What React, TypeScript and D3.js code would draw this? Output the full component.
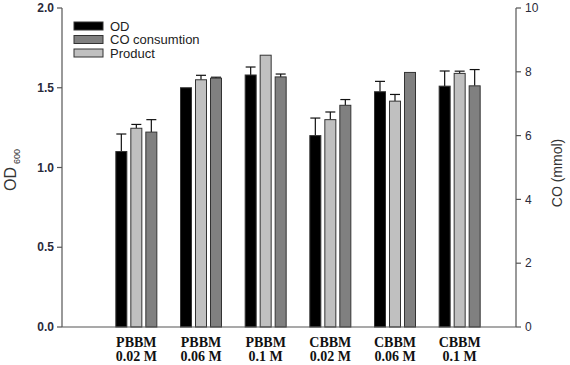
import React from 'react'
import * as d3 from 'd3'

// data
const categories = ['PBBM|0.02 M', 'PBBM|0.06 M', 'PBBM|0.1 M', 'CBBM|0.02 M', 'CBBM|0.06 M', 'CBBM|0.1 M']
const odValues = [1.10, 1.50, 1.58, 1.20, 1.475, 1.51]
const odErrors = [0.11, 0.0, 0.05, 0.11, 0.065, 0.095]
const productValues = [6.23, 7.75, 8.52, 6.5, 7.08, 7.95]
const productErrors = [0.12, 0.14, 0.0, 0.24, 0.21, 0.07]
const coValues = [6.11, 7.8, 7.84, 6.95, 7.98, 7.56]
const coErrors = [0.39, 0.03, 0.09, 0.18, 0.0, 0.51]
const leftTicks = [0, 0.5, 1.0, 1.5, 2.0]
const rightTicks = [0, 2, 4, 6, 8, 10]
const legendItems = [
    {label: 'OD', color: '#000000'},
    {label: 'CO consumtion', color: '#808080'},
    {label: 'Product', color: '#c0c0c0'},
]

const W = 570
const H = 365
const margin = {top: 8, right: 54, bottom: 38, left: 62}

export default function App() {
    const x0 = margin.left
    const x1 = W - margin.right
    const yBottom = H - margin.bottom

    const yLeft = d3.scaleLinear().domain([0, 2]).range([yBottom, margin.top])
    const yRight = d3.scaleLinear().domain([0, 10]).range([yBottom, margin.top])

    const xGroup = d3.scaleBand().domain(categories).range([104, 492]).paddingInner(0)
    const seriesKeys = ['od', 'product', 'co']
    const xSeries = d3.scaleBand().domain(seriesKeys).range([0, 41]).paddingInner(4 / 15).paddingOuter(0)

    const series = [
        {key: 'od', values: odValues, errors: odErrors, scale: yLeft, color: '#000000'},
        {key: 'product', values: productValues, errors: productErrors, scale: yRight, color: '#c0c0c0'},
        {key: 'co', values: coValues, errors: coErrors, scale: yRight, color: '#808080'},
    ]

    const axisColor = '#555'
    const textColor = '#2a2a3a'

    return (
        <svg width={W} height={H} style={{position: 'absolute', left: 0, top: 0, background: '#fff'}}
             fontFamily="Arial, 'Liberation Sans', sans-serif">
            {/* bars */}
            {series.map(s => categories.map((c, i) => {
                const gx = (xGroup(c) as number) + xGroup.bandwidth() / 2 - 20.5
                const bx = gx + (xSeries(s.key) as number)
                const bw = xSeries.bandwidth()
                const top = s.scale(s.values[i])
                const errTop = s.scale(s.values[i] + s.errors[i])
                const cx = bx + bw / 2
                return (
                    <g key={s.key + i}>
                        {s.errors[i] > 0 && (
                            <g stroke="#111" strokeWidth={1.2}>
                                <line x1={cx} x2={cx} y1={top} y2={errTop}/>
                                <line x1={cx - 5} x2={cx + 5} y1={errTop} y2={errTop}/>
                            </g>
                        )}
                        <rect x={bx} y={top} width={bw} height={yBottom - top}
                              fill={s.color} stroke="#333" strokeWidth={1}/>
                    </g>
                )
            }))}

            {/* axes */}
            <g stroke={axisColor} strokeWidth={1.2}>
                <line x1={x0} x2={x0} y1={margin.top} y2={yBottom}/>
                <line x1={x1} x2={x1} y1={margin.top} y2={yBottom}/>
                <line x1={x0} x2={x1} y1={yBottom} y2={yBottom}/>
                {leftTicks.map(t => (
                    <line key={'lt' + t} x1={x0 - 5} x2={x0} y1={yLeft(t)} y2={yLeft(t)}/>
                ))}
                {rightTicks.map(t => (
                    <line key={'rt' + t} x1={x1} x2={x1 + 5} y1={yRight(t)} y2={yRight(t)}/>
                ))}
            </g>
            {leftTicks.map(t => (
                <text key={'ll' + t} x={x0 - 8} y={yLeft(t)} dy="0.35em" textAnchor="end"
                      fontSize={12} fontWeight="bold" fill={textColor}>{d3.format('.1f')(t)}</text>
            ))}
            {rightTicks.map(t => (
                <text key={'rl' + t} x={x1 + 9} y={yRight(t)} dy="0.35em" textAnchor="start"
                      fontSize={12} fill={textColor}>{t}</text>
            ))}

            {/* category labels */}
            {categories.map(c => {
                const [a, b] = c.split('|')
                const cx = (xGroup(c) as number) + xGroup.bandwidth() / 2
                return (
                    <text key={c} textAnchor="middle" fontFamily="'Liberation Serif', 'Times New Roman', serif"
                          fontWeight="bold" fontSize={14} fill="#111">
                        <tspan x={cx} y={347}>{a}</tspan>
                        <tspan x={cx} y={361}>{b}</tspan>
                    </text>
                )
            })}

            {/* axis titles */}
            <text transform={`translate(16,${170}) rotate(-90)`} textAnchor="middle" fontSize={16} fill="#333">
                OD<tspan fontSize={9} dx={3} dy={4}>600</tspan>
            </text>
            <text transform={`translate(562,${173}) rotate(-90)`} textAnchor="middle" fontSize={14} fill="#333">
                CO (mmol)
            </text>

            {/* legend */}
            {legendItems.map((d, i) => (
                <g key={d.label} transform={`translate(74,${22 + i * 13.5})`}>
                    <rect x={0} y={0} width={29} height={8} fill={d.color} stroke="#333" strokeWidth={1}/>
                    <text x={36} y={4} dy="0.35em" fontSize={13} fill="#222">{d.label}</text>
                </g>
            ))}
        </svg>
    )
}
